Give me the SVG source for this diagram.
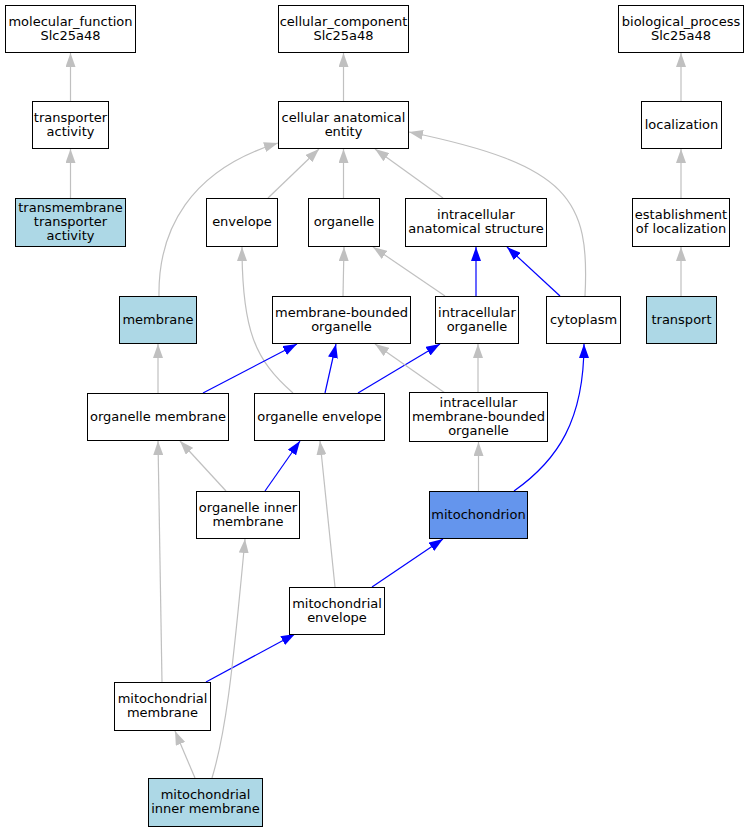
<svg xmlns="http://www.w3.org/2000/svg" width="749" height="832" viewBox="0 0 749 832">
<style>
.n rect{fill:#ffffff;stroke:#000000;stroke-width:1}
.n.lb rect{fill:#add8e6}
.n.mi rect{fill:#6495ed}
.n text{font-family:"DejaVu Sans",sans-serif;font-size:13px;fill:#000000;text-anchor:middle}
.e path{fill:none;stroke-width:1.2}
.e .g{stroke:#c0c0c0;marker-end:url(#ag)}
.e .b{stroke:#0000ff;marker-end:url(#ab)}
</style>
<defs>
<marker id="ag" viewBox="0 0 14 10" refX="14" refY="5" markerWidth="14" markerHeight="10" markerUnits="userSpaceOnUse" orient="auto"><path d="M0,0 L14,5 L0,10 z" fill="#c0c0c0"/></marker>
<marker id="ab" viewBox="0 0 14 10" refX="14" refY="5" markerWidth="14" markerHeight="10" markerUnits="userSpaceOnUse" orient="auto"><path d="M0,0 L14,5 L0,10 z" fill="#0000ff"/></marker>
</defs>
<rect width="749" height="832" fill="#ffffff"/>
<g id="edges" class="e">
<path class="g" d="M70.5,101 L70.5,53"/>
<path class="g" d="M70.5,198 L70.5,149"/>
<path class="g" d="M343.5,101 L343.5,53"/>
<path class="g" d="M268,198 L319,149"/>
<path class="g" d="M343.5,198 L343.5,149"/>
<path class="g" d="M443,198 L375,149"/>
<path class="g" d="M159,296 C158,230 190,170 278,143"/>
<path class="g" d="M585,296 C590,200 570,165 409,132"/>
<path class="g" d="M681,101 L681,53"/>
<path class="g" d="M681,198 L681,149"/>
<path class="g" d="M681,296 L681,247"/>
<path class="g" d="M343,296 L344,247"/>
<path class="g" d="M445,296 L373,247"/>
<path class="b" d="M476,296 L476,247"/>
<path class="b" d="M560,296 L507,247"/>
<path class="g" d="M293,393 C255,360 242,330 242,247"/>
<path class="g" d="M158,393 L158,344"/>
<path class="b" d="M203,393 L297,344"/>
<path class="b" d="M325,393 L336,344"/>
<path class="b" d="M358,393 L440,344"/>
<path class="g" d="M445,393 L375,344"/>
<path class="g" d="M478,392 L478,344"/>
<path class="g" d="M478.5,491 L478.5,442"/>
<path class="b" d="M514,491 C558,460 584,420 584,344"/>
<path class="g" d="M226,491 L180,441"/>
<path class="b" d="M265,491 L300,441"/>
<path class="g" d="M335,587 L320,441"/>
<path class="b" d="M372,587 L443,539"/>
<path class="g" d="M162,682 L158,441"/>
<path class="b" d="M206,682 L295,634"/>
<path class="g" d="M195,778 L175,731"/>
<path class="g" d="M212,778 C225,735 232,680 245,539"/>
</g>
<g id="mf" class="n"><rect x="5.5" y="5.5" width="130" height="47"/><text x="70.5" y="26">molecular_function</text><text x="70.5" y="40">Slc25a48</text></g>
<g id="ta" class="n"><rect x="32.5" y="101.5" width="76" height="47"/><text x="70.5" y="122">transporter</text><text x="70.5" y="136">activity</text></g>
<g id="tta" class="n lb"><rect x="15.5" y="198.5" width="110" height="48"/><text x="70.5" y="212">transmembrane</text><text x="70.5" y="226">transporter</text><text x="70.5" y="240">activity</text></g>
<g id="cc" class="n"><rect x="278.5" y="5.5" width="130" height="47"/><text x="343.5" y="26">cellular_component</text><text x="343.5" y="40">Slc25a48</text></g>
<g id="cae" class="n"><rect x="278.5" y="101.5" width="130" height="47"/><text x="343.5" y="122">cellular anatomical</text><text x="343.5" y="136">entity</text></g>
<g id="env" class="n"><rect x="206.5" y="198.5" width="71" height="48"/><text x="242" y="226">envelope</text></g>
<g id="org" class="n"><rect x="308.5" y="198.5" width="71" height="48"/><text x="344" y="226">organelle</text></g>
<g id="ias" class="n"><rect x="405.5" y="198.5" width="141" height="48"/><text x="476" y="219">intracellular</text><text x="476" y="233">anatomical structure</text></g>
<g id="bp" class="n"><rect x="618.5" y="5.5" width="125" height="47"/><text x="681" y="26">biological_process</text><text x="681" y="40">Slc25a48</text></g>
<g id="loc" class="n"><rect x="641.5" y="101.5" width="80" height="47"/><text x="681.5" y="129">localization</text></g>
<g id="eol" class="n"><rect x="632.5" y="198.5" width="97" height="48"/><text x="681" y="219">establishment</text><text x="681" y="233">of localization</text></g>
<g id="tr" class="n lb"><rect x="646.5" y="296.5" width="70" height="47"/><text x="681.5" y="324">transport</text></g>
<g id="mem" class="n lb"><rect x="119.5" y="296.5" width="77" height="47"/><text x="158" y="324">membrane</text></g>
<g id="mbo" class="n"><rect x="272.5" y="296.5" width="138" height="47"/><text x="341.5" y="317">membrane-bounded</text><text x="341.5" y="331">organelle</text></g>
<g id="io" class="n"><rect x="435.5" y="296.5" width="83" height="47"/><text x="477" y="317">intracellular</text><text x="477" y="331">organelle</text></g>
<g id="cyto" class="n"><rect x="546.5" y="296.5" width="74" height="47"/><text x="583.5" y="324">cytoplasm</text></g>
<g id="om" class="n"><rect x="87.5" y="393.5" width="141" height="47"/><text x="158" y="421">organelle membrane</text></g>
<g id="oe" class="n"><rect x="254.5" y="393.5" width="130" height="47"/><text x="319.5" y="421">organelle envelope</text></g>
<g id="imbo" class="n"><rect x="409.5" y="392.5" width="138" height="49"/><text x="478.5" y="407">intracellular</text><text x="478.5" y="421">membrane-bounded</text><text x="478.5" y="435">organelle</text></g>
<g id="oim" class="n"><rect x="196.5" y="491.5" width="103" height="47"/><text x="248" y="512">organelle inner</text><text x="248" y="526">membrane</text></g>
<g id="mito" class="n mi"><rect x="429.5" y="491.5" width="98" height="47"/><text x="478.5" y="519">mitochondrion</text></g>
<g id="me" class="n"><rect x="289.5" y="587.5" width="95" height="47"/><text x="337" y="608">mitochondrial</text><text x="337" y="622">envelope</text></g>
<g id="mm" class="n"><rect x="114.5" y="682.5" width="96" height="48"/><text x="162.5" y="703">mitochondrial</text><text x="162.5" y="717">membrane</text></g>
<g id="mim" class="n lb"><rect x="148.5" y="778.5" width="114" height="48"/><text x="205.5" y="799">mitochondrial</text><text x="205.5" y="813">inner membrane</text></g>
</svg>
